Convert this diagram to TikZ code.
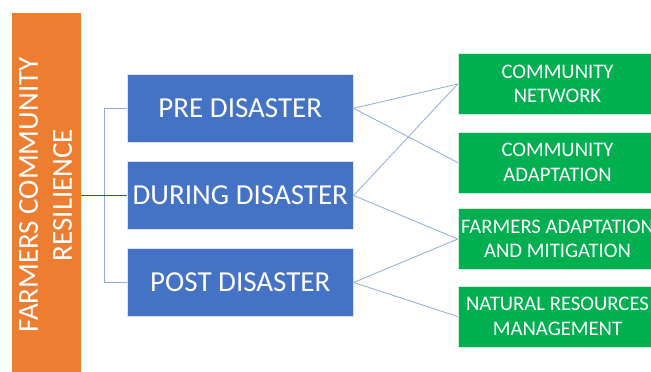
\documentclass[tikz,border=0pt]{standalone}
\usepackage{fontspec}
\setmainfont{Carlito}
\definecolor{orng}{HTML}{ED7D31}
\definecolor{blu}{HTML}{4472C4}
\definecolor{grn}{HTML}{00B050}
\definecolor{lnk}{HTML}{8FAADC}
\definecolor{dlnk}{HTML}{2F5597}
\tikzset{
  phasebox/.style={rectangle, fill=blu, draw=white!80!blu, line width=0.6pt, inner sep=0pt,
    minimum width=226pt, minimum height=68.5pt, text=white,
    font=\fontsize{29}{34}\selectfont},
  outbox/.style={rectangle, fill=grn, draw=white!80!grn, line width=0.6pt, inner sep=0pt,
    minimum width=199pt, minimum height=61pt, text=white, align=center,
    font=\fontsize{20.7}{24.4}\selectfont},
  link/.style={draw=lnk, line width=0.8pt},
  bracket/.style={draw=lnk, line width=1pt},
  stem/.style={draw=dlnk, line width=0.8pt}
}
\begin{document}
\begin{tikzpicture}[x=1pt,y=-1pt]
\useasboundingbox (0,0) rectangle (651,372);
\clip (0,0) rectangle (651,372);
\fill[white] (0,0) rectangle (651,372);
% orange bar
\node[rectangle, fill=orng, inner sep=0pt, minimum width=69pt, minimum height=364pt] (res) at (46.5,195) {};
\node[rotate=90, text=white, align=center, font=\fontsize{29}{34}\selectfont, inner sep=0pt] (restext) at (45.5,195) {FARMERS COMMUNITY\\RESILIENCE};
% phases
\node[phasebox] (pre) at (240.3,108.3) {PRE DISASTER};
\node[phasebox] (dur) at (240.3,195.5) {DURING DISASTER};
\node[phasebox] (post) at (240.3,282.5) {POST DISASTER};
% outcomes
\node[outbox] (cn) at (557.5,84) {COMMUNITY\\NETWORK};
\node[outbox] (ca) at (557.5,162.5) {COMMUNITY\\ADAPTATION};
\node[outbox] (fa) at (557.5,239) {FARMERS ADAPTATION\\AND MITIGATION};
\node[outbox] (nr) at (557.5,316.5) {NATURAL RESOURCES\\MANAGEMENT};
% bracket
\draw[bracket] (pre.west) -- ++(-23,0) |- (post.west);
\draw[stem] (res.east |- dur.west) -- (dur.west);
% links
\draw[link] (pre.east) -- (cn.west);
\draw[link] (pre.east) -- (ca.west);
\draw[link] (dur.east) -- (cn.west);
\draw[link] (dur.east) -- (fa.west);
\draw[link] (post.east) -- (fa.west);
\draw[link] (post.east) -- (nr.west);
\end{tikzpicture}
\end{document}
